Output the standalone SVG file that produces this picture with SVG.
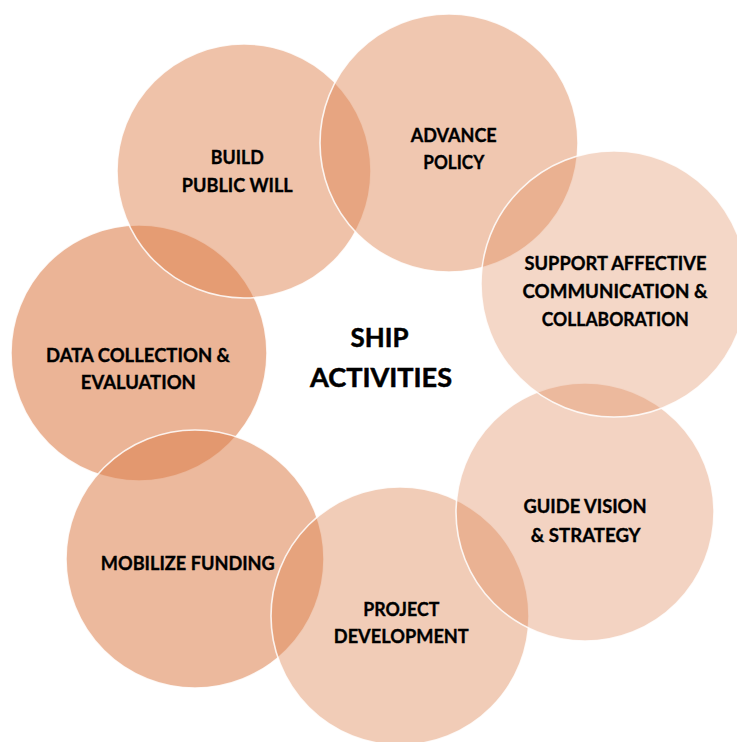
<svg xmlns="http://www.w3.org/2000/svg" width="737" height="742" viewBox="0 0 737 742">
<style>
.c{fill:rgb(222,130,80);stroke:#fff;stroke-width:1.6;stroke-opacity:0.85}
.t{font-family:Lato,"Open Sans","Liberation Sans",sans-serif;font-weight:bold;font-size:19px;fill:#000;stroke:#000;stroke-width:0.35;text-anchor:middle}
.h{font-size:26px;stroke-width:0.5}
</style>
<rect width="737" height="742" fill="#fff"/>
<g id="data-collection">
<circle class="c" cx="139" cy="353" r="128" fill-opacity="0.6"/>
<text class="t" x="138" y="361.5" textLength="184" lengthAdjust="spacingAndGlyphs">DATA COLLECTION &amp;</text>
<text class="t" x="138.3" y="389" textLength="115" lengthAdjust="spacingAndGlyphs">EVALUATION</text>
</g>
<g id="build-public-will">
<circle class="c" cx="244" cy="171" r="127" fill-opacity="0.49"/>
<text class="t" x="237.3" y="164" textLength="53" lengthAdjust="spacingAndGlyphs">BUILD</text>
<text class="t" x="237.3" y="191.5" textLength="111" lengthAdjust="spacingAndGlyphs">PUBLIC WILL</text>
</g>
<g id="advance-policy">
<circle class="c" cx="449" cy="143" r="129" fill-opacity="0.45"/>
<text class="t" x="453.7" y="141.5" textLength="86" lengthAdjust="spacingAndGlyphs">ADVANCE</text>
<text class="t" x="453.8" y="169" textLength="61" lengthAdjust="spacingAndGlyphs">POLICY</text>
</g>
<g id="mobilize-funding">
<circle class="c" cx="195" cy="559" r="129" fill-opacity="0.56"/>
<text class="t" x="187.8" y="570" textLength="174" lengthAdjust="spacingAndGlyphs">MOBILIZE FUNDING</text>
</g>
<g id="project-development">
<circle class="c" cx="400" cy="616" r="129" fill-opacity="0.41"/>
<text class="t" x="401.3" y="616" textLength="76" lengthAdjust="spacingAndGlyphs">PROJECT</text>
<text class="t" x="401.3" y="643.3" textLength="135" lengthAdjust="spacingAndGlyphs">DEVELOPMENT</text>
</g>
<g id="guide-vision">
<circle class="c" cx="585" cy="512" r="129" fill-opacity="0.35"/>
<text class="t" x="585" y="513.3" textLength="123" lengthAdjust="spacingAndGlyphs">GUIDE VISION</text>
<text class="t" x="585.7" y="541.5" textLength="110" lengthAdjust="spacingAndGlyphs">&amp; STRATEGY</text>
</g>
<g id="support-communication">
<circle class="c" cx="614" cy="284" r="133" fill-opacity="0.32"/>
<text class="t" x="615.5" y="270" textLength="182" lengthAdjust="spacingAndGlyphs">SUPPORT AFFECTIVE</text>
<text class="t" x="615" y="298.3" textLength="185" lengthAdjust="spacingAndGlyphs">COMMUNICATION &amp;</text>
<text class="t" x="615.3" y="326" textLength="147" lengthAdjust="spacingAndGlyphs">COLLABORATION</text>
</g>
<g id="ship-activities">
<text class="t h" x="379.5" y="346.7" textLength="58" lengthAdjust="spacingAndGlyphs">SHIP</text>
<text class="t h" x="381" y="387" textLength="142" lengthAdjust="spacingAndGlyphs">ACTIVITIES</text>
</g>
</svg>
